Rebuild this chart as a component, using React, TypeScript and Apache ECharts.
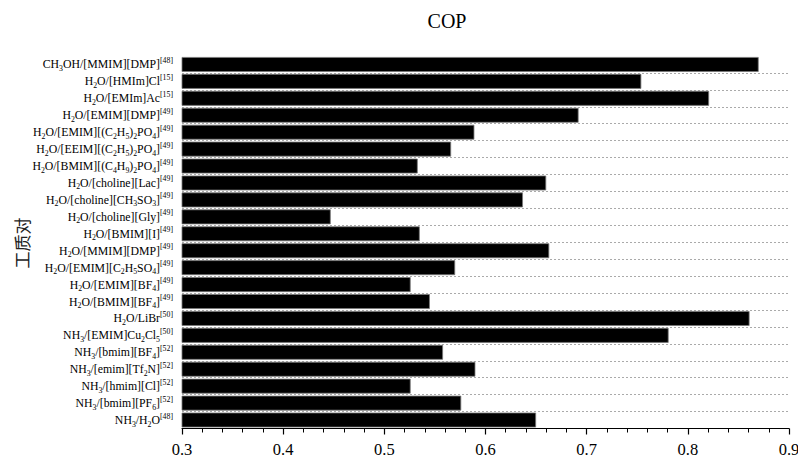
import React, { useEffect, useRef } from "react";
import * as echarts from "echarts";

// Markup: _{x} = subscript, ^{x} = superscript
const categories: string[] = [
  "CH_{3}OH/[MMIM][DMP]^{[48]}",
  "H_{2}O/[HMIm]Cl^{[15]}",
  "H_{2}O/[EMIm]Ac^{[15]}",
  "H_{2}O/[EMIM][DMP]^{[49]}",
  "H_{2}O/[EMIM][(C_{2}H_{5})_{2}PO_{4}]^{[49]}",
  "H_{2}O/[EEIM][(C_{2}H_{5})_{2}PO_{4}]^{[49]}",
  "H_{2}O/[BMIM][(C_{4}H_{9})_{2}PO_{4}]^{[49]}",
  "H_{2}O/[choline][Lac]^{[49]}",
  "H_{2}O/[choline][CH_{3}SO_{3}]^{[49]}",
  "H_{2}O/[choline][Gly]^{[49]}",
  "H_{2}O/[BMIM][I]^{[49]}",
  "H_{2}O/[MMIM][DMP]^{[49]}",
  "H_{2}O/[EMIM][C_{2}H_{5}SO_{4}]^{[49]}",
  "H_{2}O/[EMIM][BF_{4}]^{[49]}",
  "H_{2}O/[BMIM][BF_{4}]^{[49]}",
  "H_{2}O/LiBr^{[50]}",
  "NH_{3}/[EMIM]Cu_{2}Cl_{5}^{[50]}",
  "NH_{3}/[bmim][BF_{4}]^{[52]}",
  "NH_{3}/[emim][Tf_{2}N]^{[52]}",
  "NH_{3}/[hmim][Cl]^{[52]}",
  "NH_{3}/[bmim][PF_{6}]^{[52]}",
  "NH_{3}/H_{2}O^{[48]}",
];

const copValues: number[] = [
  0.870, 0.754, 0.821, 0.692, 0.589, 0.566, 0.533, 0.660, 0.637, 0.447, 0.535,
  0.663, 0.570, 0.526, 0.545, 0.861, 0.781, 0.558, 0.590, 0.526, 0.576, 0.650,
];

const titleText = "COP";
const yAxisName = "工质对";
const xMin = 0.3;
const xMax = 0.9;
const xInterval = 0.1;

function toRich(s: string): string {
  let out = "";
  let buf = "";
  let i = 0;
  const flush = () => {
    if (buf) {
      out += "{n|" + buf + "}";
      buf = "";
    }
  };
  while (i < s.length) {
    const c = s[i];
    if ((c === "_" || c === "^") && s[i + 1] === "{") {
      const end = s.indexOf("}", i + 2);
      const inner = s.slice(i + 2, end);
      flush();
      out += "{" + (c === "_" ? "s" : "p") + "|" + inner + "}";
      i = end + 1;
    } else {
      buf += c;
      i++;
    }
  }
  flush();
  return out;
}

const SERIF = "'Liberation Serif', 'Times New Roman', serif";

export default function App() {
  const ref = useRef<HTMLDivElement>(null);
  useEffect(() => {
    if (!ref.current) return;
    const chart = echarts.init(ref.current, undefined, { renderer: "svg" });
    chart.setOption({
      animation: false,
      backgroundColor: "#ffffff",
      graphic: [
        {
          type: "text",
          x: 447,
          y: 21,
          style: {
            text: titleText,
            fontSize: 20,
            fontFamily: SERIF,
            fill: "#000",
            textAlign: "center",
            textVerticalAlign: "middle",
          },
        },
        {
          type: "text",
          x: 21,
          y: 243,
          rotation: Math.PI / 2,
          style: {
            text: yAxisName,
            fontSize: 17,
            fontFamily: "'Noto Sans CJK SC', sans-serif",
            fill: "#222",
            textAlign: "center",
            textVerticalAlign: "middle",
          },
        },
      ],
      grid: { left: 182, right: 9, top: 56, bottom: 28.5, containLabel: false, outerBoundsMode: "none" },
      xAxis: {
        type: "value",
        min: xMin,
        max: xMax,
        interval: xInterval,
        axisLine: { show: true, lineStyle: { color: "#000", width: 1.2 } },
        axisTick: { show: true, inside: false, length: 6, lineStyle: { color: "#000", width: 1.2 } },
        minorTick: { show: true, splitNumber: 5, length: 4, lineStyle: { color: "#000", width: 1 } },
        splitLine: { show: false },
        minorSplitLine: { show: false },
        axisLabel: {
          margin: 12,
          fontSize: 16.5,
          fontFamily: SERIF,
          color: "#000",
          formatter: (v: number) => v.toFixed(1),
        },
      },
      yAxis: {
        type: "category",
        inverse: true,
        data: categories.map(toRich),
        axisLine: { show: false },
        axisTick: { show: false },
        splitLine: {
          show: true,
          showMinLine: false,
          showMaxLine: false,
          lineStyle: { color: "#aaa", type: [2, 2], width: 1 },
        },
        axisLabel: {
          interval: 0,
          margin: 9,
          color: "#000",
          rich: {
            n: { fontSize: 11.8, fontFamily: SERIF, color: "#000", lineHeight: 16 },
            s: { fontSize: 7.8, fontFamily: SERIF, color: "#000", lineHeight: 8, verticalAlign: "bottom" },
            p: { fontSize: 7.8, fontFamily: SERIF, color: "#000", lineHeight: 8, verticalAlign: "top" },
          },
        },
      },
      series: [
        {
          type: "bar",
          data: copValues,
          barCategoryGap: "12%",
          itemStyle: { color: "#000", borderColor: "#777", borderWidth: 0.8 },
        },
      ],
    });
    return () => chart.dispose();
  }, []);
  return <div ref={ref} style={{ width: 798, height: 457, position: "absolute", left: 0, top: 0 }} />;
}
